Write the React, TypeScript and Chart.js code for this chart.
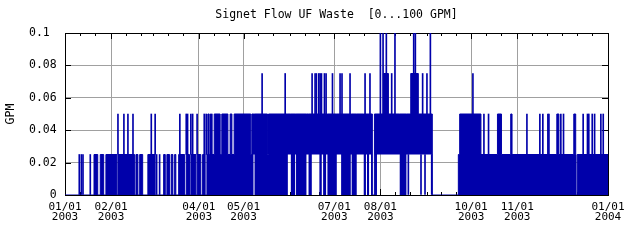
import React, { useEffect, useRef } from 'react';
import { Chart, registerables } from 'chart.js';

Chart.register(...registerables);

const TITLE = 'Signet Flow UF Waste  [0...100 GPM]';
const Y_TITLE = 'GPM';
const FONT = "'DejaVu Sans Mono', 'Liberation Mono', monospace";
const BLUE = '#0000aa';
const GRID = '#a0a0a0';

// x axis: days since 01/01/2003
const xTickDays = [0, 31, 90, 120, 181, 212, 273, 304, 365];
const xTickDates = ['01/01', '02/01', '04/01', '05/01', '07/01', '08/01', '10/01', '11/01', '01/01'];
const xTickYears = ['2003', '2003', '2003', '2003', '2003', '2003', '2003', '2003', '2004'];
const monthStartDays = [0, 31, 59, 90, 120, 151, 181, 212, 243, 273, 304, 334];
const minorTickOffsets = [0, 10, 20];

const yTickValues = [0, 0.02, 0.04, 0.06, 0.08, 0.1];
const yTickLabels = ['   0', '0.02', '0.04', '0.06', '0.08', '0.1'];

// signal levels
const L0 = 0;
const L1 = 0.025;
const L2 = 0.05;
const L3 = 0.075;
const L4 = 0.1;

// dense (rapidly switching) periods, [startDay, endDay]
const band1Blocks = [
  [19.5, 22.0], [23.7, 26.0], [27.5, 34.9], [35.6, 46.8], [47.7, 49.0], [50.2, 52.2],
  [55.7, 60.6], [66.3, 67.4], [68.5, 70.3], [71.4, 72.5], [73.7, 74.5], [76.4, 80.4],
  [81.5, 83.7], [84.6, 88.0], [88.8, 91.3], [92.5, 94.2], [95.4, 126.7], [127.4, 149.8],
  [151.8, 154.7], [155.3, 162.3], [163.7, 165.9], [171.0, 172.6], [173.5, 175.5],
  [176.4, 182.7], [185.6, 192.1], [192.7, 196.1], [200.8, 202.3], [203.0, 204.4],
  [205.7, 206.6], [208.4, 209.7], [225.0, 229.5], [264.4, 343.5], [344.3, 365],
];
const band2Blocks = [
  [96.0, 96.9], [100.3, 104.3], [105.4, 109.5], [111.0, 112.2], [113.7, 124.9],
  [125.6, 136.1], [136.8, 206.6], [208.0, 246.9], [265.3, 279.6], [290.7, 293.4],
  [299.6, 300.5], [330.6, 332.0], [342.0, 343.3],
];
const band3Blocks = [[214.0, 217.4], [232.4, 237.5]];

// single excursions (thin lines), day of each
const lines025 = [9.6, 11.0, 12.1, 17.0, 61.6, 63.6, 230.8, 239.3, 242.0, 246.5];
const lines050 = [
  35.6, 39.6, 42.3, 45.7, 58.0, 60.6, 77.2, 81.5, 82.4, 84.6, 85.8, 88.8, 93.6, 94.9,
  97.9, 98.7, 281.6, 284.7, 310.5, 319.2, 321.2, 324.6, 325.3, 333.3, 335.1, 348.3,
  351.2, 352.1, 354.4, 356.0, 360.2, 361.8,
];
const lines075 = [
  132.5, 148.0, 166.1, 168.1, 169.0, 170.6, 171.5, 172.4, 174.4, 175.5, 179.8, 184.9,
  186.2, 191.6, 201.7, 205.0, 219.6, 240.4, 243.3, 274.2,
];
const lines100 = [212.0, 213.8, 216.0, 221.8, 234.4, 235.5, 245.6];

function buildEnvelope() {
  const set = new Set<number>([0, 365]);
  [...band1Blocks, ...band2Blocks, ...band3Blocks].forEach(([a, b]) => { set.add(a); set.add(b); });
  const bounds = Array.from(set).sort((a, b) => a - b);
  const inside = (blocks: number[][], t: number) => blocks.some(([a, b]) => t >= a && t < b);
  const top: { x: number; y: number }[] = [];
  const bot: { x: number; y: number }[] = [];
  for (let i = 0; i < bounds.length; i++) {
    const t0 = bounds[i];
    if (i === bounds.length - 1) {
      top.push({ x: t0, y: top[top.length - 1].y });
      bot.push({ x: t0, y: bot[bot.length - 1].y });
      break;
    }
    const mid = (t0 + bounds[i + 1]) / 2;
    const b1 = inside(band1Blocks, mid);
    const b2 = inside(band2Blocks, mid);
    const b3 = inside(band3Blocks, mid);
    const lo = b1 ? L0 : b2 ? L1 : b3 ? L2 : L0;
    const hi = b3 ? L3 : b2 ? L2 : b1 ? L1 : L0;
    top.push({ x: t0, y: hi });
    bot.push({ x: t0, y: lo });
  }
  return { top, bot };
}

function buildSpikes() {
  return [
    ...lines025.map((d) => ({ x: d, y: [L0, L1] })),
    ...lines050.map((d) => ({ x: d, y: [L1, L2] })),
    ...lines075.map((d) => ({ x: d, y: [L2, L3] })),
    ...lines100.map((d) => ({ x: d, y: [L2, L4] })),
  ];
}

const framePlugin = {
  id: 'frame',
  beforeDatasetsDraw(chart: any) {
    const { ctx, chartArea, scales } = chart;
    const { left, right, top, bottom } = chartArea;
    const x = scales.x;
    const y = scales.y;
    ctx.save();
    ctx.strokeStyle = '#000';
    ctx.lineWidth = 1;
    ctx.beginPath();
    yTickValues.slice(1, -1).forEach((v) => {
      const py = Math.round(y.getPixelForValue(v)) + 0.5;
      ctx.moveTo(left, py); ctx.lineTo(left + 6, py);
      ctx.moveTo(right - 6, py); ctx.lineTo(right, py);
    });
    monthStartDays.forEach((m) => {
      minorTickOffsets.forEach((o) => {
        const d = m + o;
        const px = Math.round(x.getPixelForValue(d)) + 0.5;
        const len = xTickDays.includes(d) ? 6 : 3;
        ctx.moveTo(px, top); ctx.lineTo(px, top + len);
        ctx.moveTo(px, bottom); ctx.lineTo(px, bottom - len);
      });
    });
    ctx.stroke();
    ctx.strokeRect(Math.round(left) + 0.5, Math.round(top) + 0.5, Math.round(right - left), Math.round(bottom - top));
    ctx.restore();
  },
  afterDraw(chart: any) {
    const { ctx, chartArea } = chart;
    ctx.save();
    ctx.fillStyle = '#000';
    ctx.font = `11.5px ${FONT}`;
    ctx.textAlign = 'center';
    ctx.textBaseline = 'middle';
    ctx.fillText(TITLE, (chartArea.left + chartArea.right) / 2, 15.5);
    ctx.translate(11, 114);
    ctx.rotate(-Math.PI / 2);
    ctx.fillText(Y_TITLE, 0, 0);
    ctx.restore();
  },
};

export default function App() {
  const ref = useRef<HTMLCanvasElement>(null);
  useEffect(() => {
    document.body.style.margin = '0';
    const { top, bot } = buildEnvelope();
    const chart = new Chart(ref.current as HTMLCanvasElement, {
      type: 'line',
      data: {
        datasets: [
          {
            type: 'line', data: top, stepped: true, borderColor: BLUE, borderWidth: 1,
            pointRadius: 0, fill: false,
          } as any,
          {
            type: 'line', data: bot, stepped: true, borderColor: 'rgba(0,0,0,0)', borderWidth: 0,
            pointRadius: 0, fill: '-1', backgroundColor: BLUE,
          } as any,
          {
            type: 'bar', data: buildSpikes(), backgroundColor: BLUE, borderWidth: 0,
            barThickness: 1, grouped: false,
          } as any,
        ],
      },
      options: {
        responsive: false,
        animation: false,
        layout: { padding: { left: 29, right: 32, top: 33, bottom: 0 } },
        plugins: { legend: { display: false }, tooltip: { enabled: false }, title: { display: false } },
        scales: {
          x: {
            type: 'linear', min: 0, max: 365, offset: false,
            afterBuildTicks: (s: any) => { s.ticks = xTickDays.map((v) => ({ value: v })); },
            afterFit: (s: any) => { s.height = 45; },
            grid: { color: GRID, drawTicks: false, offset: false },
            border: { display: false },
            ticks: {
              autoSkip: false, maxRotation: 0, minRotation: 0, padding: 7, color: '#000',
              font: { family: FONT, size: 11, lineHeight: '10px' },
              callback: (_v: any, i: number) => [xTickDates[i], xTickYears[i]],
            },
          },
          y: {
            type: 'linear', min: 0, max: 0.1,
            afterBuildTicks: (s: any) => { s.ticks = yTickValues.map((v) => ({ value: v })); },
            afterFit: (s: any) => { s.width = 36; },
            grid: { color: GRID, drawTicks: false },
            border: { display: false },
            ticks: {
              crossAlign: 'far', padding: 0, color: '#000',
              font: { family: FONT, size: 11.5 },
              callback: (_v: any, i: number) => yTickLabels[i],
            },
          },
        },
      } as any,
      plugins: [framePlugin],
    });
    return () => chart.destroy();
  }, []);
  return <canvas ref={ref} width={640} height={240} style={{ display: 'block' }} />;
}
